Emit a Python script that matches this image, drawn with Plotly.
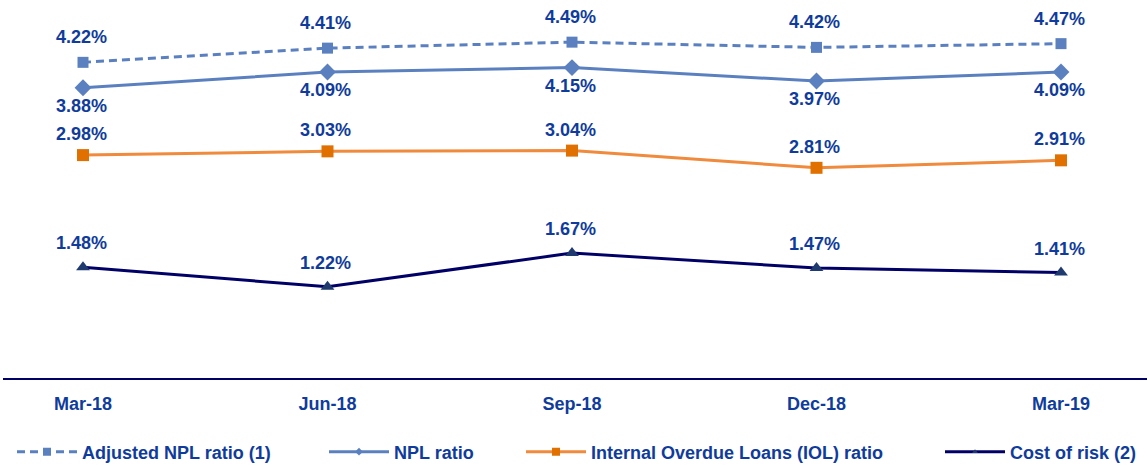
import plotly.graph_objects as go

categories = ["Mar-18", "Jun-18", "Sep-18", "Dec-18", "Mar-19"]
adjusted_npl = [4.22, 4.41, 4.49, 4.42, 4.47]
npl_ratio = [3.88, 4.09, 4.15, 3.97, 4.09]
iol_ratio = [2.98, 3.03, 3.04, 2.81, 2.91]
cost_of_risk = [1.48, 1.22, 1.67, 1.47, 1.41]

TEXT = "#0F3C9C"
FONT = "Liberation Sans, Arial, sans-serif"
x = list(range(len(categories)))

fig = go.Figure()
series = [
    ("Adjusted NPL ratio (1)", adjusted_npl, dict(color="#5B80C0", width=3, dash="8px,5px"),
     dict(symbol="square", size=11, color="#5B80C0"), 8, 25, "legend"),
    ("NPL ratio", npl_ratio, dict(color="#5B80C0", width=3),
     dict(symbol="diamond", size=13, color="#5B80C0"), 6, -18, "legend2"),
    ("Internal Overdue Loans (IOL) ratio", iol_ratio, dict(color="#F08A3C", width=3),
     dict(symbol="square", size=12, color="#E07000"), 8, 21, "legend3"),
    ("Cost of risk (2)", cost_of_risk, dict(color="#000066", width=3),
     dict(symbol="triangle-up", size=12, color="#1F3A6E"), 5, 24, "legend4"),
]
annotations = []
for name, vals, line, marker, lsize, shift, lg in series:
    fig.add_trace(go.Scatter(x=x, y=vals, mode="lines+markers", name=name,
                             line=line, marker=marker, showlegend=False))
    fig.add_trace(go.Scatter(x=[None], y=[None], mode="lines+markers", name=name,
                             line=line, marker=dict(marker, size=lsize), legend=lg,
                             showlegend=True))
    for xi, v in zip(x, vals):
        annotations.append(dict(x=xi, y=v, text=f"{v:.2f}%", showarrow=False,
                                yshift=shift, xshift=-2,
                                font=dict(family=FONT, size=18, color=TEXT, weight="bold")))

W = 1147
H = 465
L = 3
T = 4
B = 87
pw = W - L
ph = H - T - B
def lx(px):
    return (px - L) / pw

legend_common = dict(orientation="h", yanchor="middle", y=-(452 - (H - B)) / ph,
                     font=dict(family=FONT, size=18, color=TEXT, weight="bold"),
                     bgcolor="rgba(0,0,0,0)", itemclick=False, itemwidth=60)
fig.update_layout(
    width=W, height=H,
    margin=dict(l=L, r=0, t=T, b=B, autoexpand=False),
    plot_bgcolor="white", paper_bgcolor="white",
    showlegend=True,
    annotations=annotations,
    legend=dict(x=lx(12), xanchor="left", **legend_common),
    legend2=dict(x=lx(324), xanchor="left", **legend_common),
    legend3=dict(x=lx(521), xanchor="left", **legend_common),
    legend4=dict(x=lx(940), xanchor="left", **legend_common),
    xaxis=dict(range=[-(83 - L) / 244.5, (W - 83) / 244.5], tickvals=x, ticktext=categories,
               showgrid=False, zeroline=False, showline=True, linecolor="#000066", linewidth=2,
               ticks="outside", ticklen=8, tickcolor="rgba(0,0,0,0)",
               tickfont=dict(family=FONT, size=18, color=TEXT, weight="bold")),
    yaxis=dict(range=[0, 5], visible=False, showgrid=False, zeroline=False),
)
fig.write_html("out.html", config={"displayModeBar": False},
               post_script="document.body.style.margin='0px';"
                           "document.body.style.overflow='hidden';"
                           "document.documentElement.style.overflow='hidden';")
